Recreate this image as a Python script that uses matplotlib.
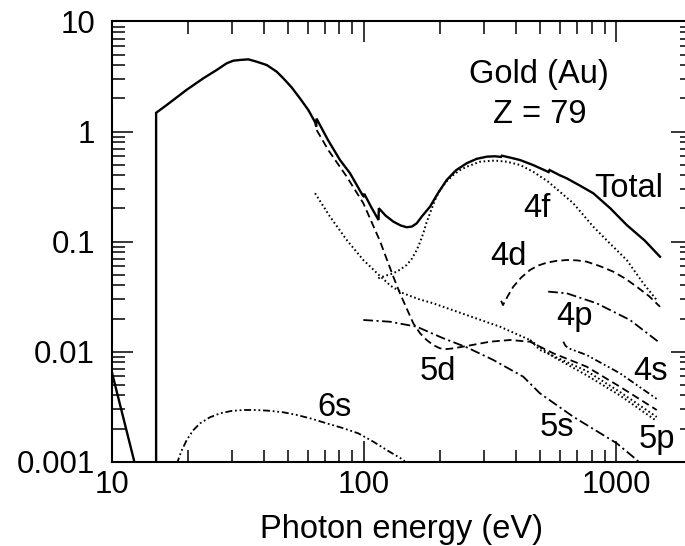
import matplotlib
matplotlib.use("Agg")
import matplotlib.pyplot as plt
from matplotlib.ticker import LogLocator, NullFormatter, FixedLocator, FixedFormatter

plt.rcParams['font.family'] = ['Liberation Sans', 'DejaVu Sans']
plt.rcParams['lines.scale_dashes'] = False

# ---- photoionization cross-section data for gold (photon energy in eV, sigma in Mb) ----
total_tail_e = [10.0, 12.6]
total_tail_s = [0.0066, 0.0008]

total_e = [15.0, 15.0, 16.53, 19.8, 23.08, 26.1, 28.58, 30.36, 32.27, 34.8, 37.57,
           41.2, 45.1, 47.9, 51.7, 55.8, 60.2, 64.0, 64.7, 64.9,
           72.0, 80.4, 88.1, 99.0, 99.6, 100.3, 107.0, 114.3, 114.6, 122.0, 130.8,
           140.0, 147.8, 155.0, 162.0, 170.0, 182.8, 196.0, 213.0, 232.0, 255.6,
           280.0, 306.9, 330.0, 350.0, 352.5, 380.0, 416.0, 470.0, 536.0, 540.0,
           545.0, 599.0, 637.0, 720.0, 812.0, 950.0, 1102.0, 1300.0, 1493.0]
total_s = [0.0008, 1.48, 1.743, 2.39, 3.046, 3.63, 4.172, 4.404, 4.470, 4.53, 4.312,
           4.02, 3.50, 3.05, 2.52, 2.00, 1.570, 1.22, 1.11, 1.31,
           0.84, 0.551, 0.418, 0.262, 0.259, 0.272, 0.205, 0.157, 0.201, 0.172, 0.152,
           0.140, 0.135, 0.137, 0.1466, 0.170, 0.2075, 0.272, 0.363, 0.445, 0.515,
           0.565, 0.591, 0.596, 0.588, 0.603, 0.580, 0.551, 0.495, 0.432, 0.428,
           0.447, 0.400, 0.376, 0.322, 0.275, 0.200, 0.1415, 0.102, 0.0729]

sub_5d_e = [65.0, 72.2, 85.5, 99.5, 115.8, 130.8, 139.0, 148.0, 157.0, 167.0, 177.4,
            188.0, 200.3, 213.0, 226.2, 255.6, 316.0, 379.6, 455.6, 563.6, 764.5,
            1036.0, 1449.0]
sub_5d_s = [1.03, 0.680, 0.389, 0.223, 0.1012, 0.048, 0.0339, 0.0245, 0.0181, 0.0147,
            0.01276, 0.0115, 0.01072, 0.01055, 0.01072, 0.01125, 0.01231, 0.01276,
            0.01231, 0.00966, 0.0073, 0.0048, 0.00295]

sub_5p_e = [64.0, 73.4, 85.5, 99.5, 115.8, 128.0, 143.3, 165.0, 188.4, 255.6, 346.5,
            455.6, 499.0, 764.5, 1036.0, 1449.0]
sub_5p_s = [0.275, 0.1684, 0.1034, 0.068, 0.0487, 0.0395, 0.0339, 0.0300, 0.0275,
            0.0215, 0.01685, 0.01276, 0.01035, 0.00667, 0.0043, 0.00255]

sub_5p2_e = [455.6, 563.6, 764.5, 1036.0, 1449.0]
sub_5p2_s = [0.01276, 0.0090, 0.0061, 0.0040, 0.00234]

sub_4f_e = [114.0, 122.0, 130.8, 139.0, 147.8, 155.0, 162.0, 167.0, 172.0, 177.0,
            182.8, 191.0, 200.3, 212.0, 226.2, 240.0, 255.6, 288.7, 330.0, 368.4,
            416.0, 470.0, 538.0, 676.6, 812.0, 950.0, 1102.0, 1282.0, 1449.0]
sub_4f_s = [0.0464, 0.0490, 0.0515, 0.0555, 0.0613, 0.0700, 0.0839, 0.0990, 0.119,
            0.148, 0.1807, 0.236, 0.294, 0.350, 0.403, 0.445, 0.479, 0.532, 0.545,
            0.532, 0.497, 0.430, 0.350, 0.223, 0.1366, 0.095, 0.068, 0.0418, 0.0294]

sub_4d_e = [350.0, 356.0, 372.0, 391.2, 420.0, 455.6, 490.0, 530.6, 580.0, 637.0,
            700.0, 764.5, 860.0, 974.8, 1090.0, 1207.0, 1350.0, 1493.0]
sub_4d_s = [0.0290, 0.0265, 0.0320, 0.0389, 0.0470, 0.0552, 0.0605, 0.0643, 0.0668,
            0.068, 0.0675, 0.0657, 0.0600, 0.0533, 0.0460, 0.0389, 0.0320, 0.0256]

sub_4p_e = [538.0, 637.0, 837.5, 1135.0, 1470.0]
sub_4p_s = [0.0351, 0.0339, 0.0275, 0.0194, 0.01231]

sub_4s_e = [617.6, 630.0, 650.0, 764.5, 1036.0, 1470.0]
sub_4s_s = [0.01231, 0.0113, 0.0107, 0.00932, 0.00636, 0.00364]

sub_5s_e = [99.5, 126.9, 162.0, 206.5, 255.6, 326.0, 428.5, 499.0, 676.6, 1006.0,
            1207.0, 1302.0]
sub_5s_s = [0.0194, 0.0187, 0.01685, 0.01322, 0.01095, 0.0084, 0.00592, 0.00418,
            0.00256, 0.00147, 0.00104, 0.00087]

sub_6s_e = [18.1, 18.9, 19.83, 21.0, 22.4, 24.5, 26.9, 29.8, 33.2, 37.5, 42.4, 48.0,
            54.1, 62.0, 71.2, 82.0, 95.0, 109.0, 125.0, 143.3, 150.0]
sub_6s_s = [0.00095, 0.00125, 0.00157, 0.00192, 0.00223, 0.00253, 0.00275, 0.00289,
            0.00295, 0.00295, 0.0029, 0.00281, 0.00266, 0.00246, 0.00223, 0.00203,
            0.00181, 0.00152, 0.00125, 0.00104, 0.00092]

x_ticks = [10, 100, 1000]
x_tick_labels = ["10", "100", "1000"]
y_ticks = [0.001, 0.01, 0.1, 1, 10]
y_tick_labels = ["0.001", "0.01", "0.1", "1", "10"]

# shell labels: (text, energy, sigma at baseline)
shell_labels = [("Total", 1125, 0.256), ("4f", 486, 0.1673), ("4d", 372.8, 0.0613),
                ("4p", 681, 0.01747), ("4s", 1363, 0.00553), ("5d", 196.7, 0.00553),
                ("5s", 583, 0.00172), ("5p", 1453, 0.001324), ("6s", 76.4, 0.0026)]

# ---- figure ----
fig = plt.figure(figsize=(6.85, 5.46), dpi=100)
ax = fig.add_axes([0.16307, 0.15440, 0.84715, 0.80623])
ax.set_xscale('log')
ax.set_yscale('log')

k = 'black'
dashed = (0, (5.5, 3.0))
dotted = (0, (1.2, 1.9))
dashdot = (0, (7.0, 2.5, 1.5, 2.5))
dashdotdot = (0, (5.0, 2.0, 1.3, 2.0, 1.3, 2.0))

ax.plot(total_tail_e, total_tail_s, color=k, lw=1.7, solid_joinstyle='miter')
ax.plot(total_e, total_s, color=k, lw=1.7, solid_joinstyle='miter')
ax.plot(sub_5d_e, sub_5d_s, color=k, lw=1.3, linestyle=dashed)
ax.plot(sub_4d_e, sub_4d_s, color=k, lw=1.3, linestyle=dashed)
ax.plot(sub_5p_e, sub_5p_s, color=k, lw=1.4, linestyle=dotted)
ax.plot(sub_5p2_e, sub_5p2_s, color=k, lw=1.4, linestyle=dotted)
ax.plot(sub_4f_e, sub_4f_s, color=k, lw=1.4, linestyle=dotted)
ax.plot(sub_5s_e, sub_5s_s, color=k, lw=1.3, linestyle=dashdot)
ax.plot(sub_4p_e, sub_4p_s, color=k, lw=1.3, linestyle=dashdot)
ax.plot(sub_4s_e, sub_4s_s, color=k, lw=1.3, linestyle=dashdotdot)
ax.plot(sub_6s_e, sub_6s_s, color=k, lw=1.3, linestyle=dashdotdot)

ax.set_xlim(10, 2000)
ax.set_ylim(0.001, 10)

fs_tick = 22.5
fs_text = 23.5

ax.xaxis.set_major_locator(FixedLocator(x_ticks))
ax.xaxis.set_major_formatter(FixedFormatter(x_tick_labels))
ax.yaxis.set_major_locator(FixedLocator(y_ticks))
ax.yaxis.set_major_formatter(FixedFormatter(y_tick_labels))
ax.xaxis.set_minor_locator(LogLocator(base=10, subs=range(2, 10), numticks=20))
ax.yaxis.set_minor_locator(LogLocator(base=10, subs=range(2, 10), numticks=20))
ax.xaxis.set_minor_formatter(NullFormatter())
ax.yaxis.set_minor_formatter(NullFormatter())

ax.tick_params(which='both', direction='in', top=True, right=True, color=k, width=1.1)
ax.tick_params(which='major', length=15)
ax.tick_params(which='minor', length=9)
ax.tick_params(axis='x', which='major', labelsize=fs_tick, pad=6)
ax.tick_params(axis='y', which='major', labelsize=fs_tick, pad=12)
for sp in ax.spines.values():
    sp.set_linewidth(1.5)

ax.set_xlabel("Photon energy (eV)", fontsize=fs_text, labelpad=10)

ax.text(494.7, 2.76, "Gold (Au)", fontsize=fs_text, ha='center', va='baseline')
ax.text(499, 1.203, "Z = 79", fontsize=fs_text, ha='center', va='baseline')
for txt, xe, ys in shell_labels:
    ax.text(xe, ys, txt, fontsize=fs_text, ha='center', va='baseline')

fig.savefig("out.png", dpi=100)
